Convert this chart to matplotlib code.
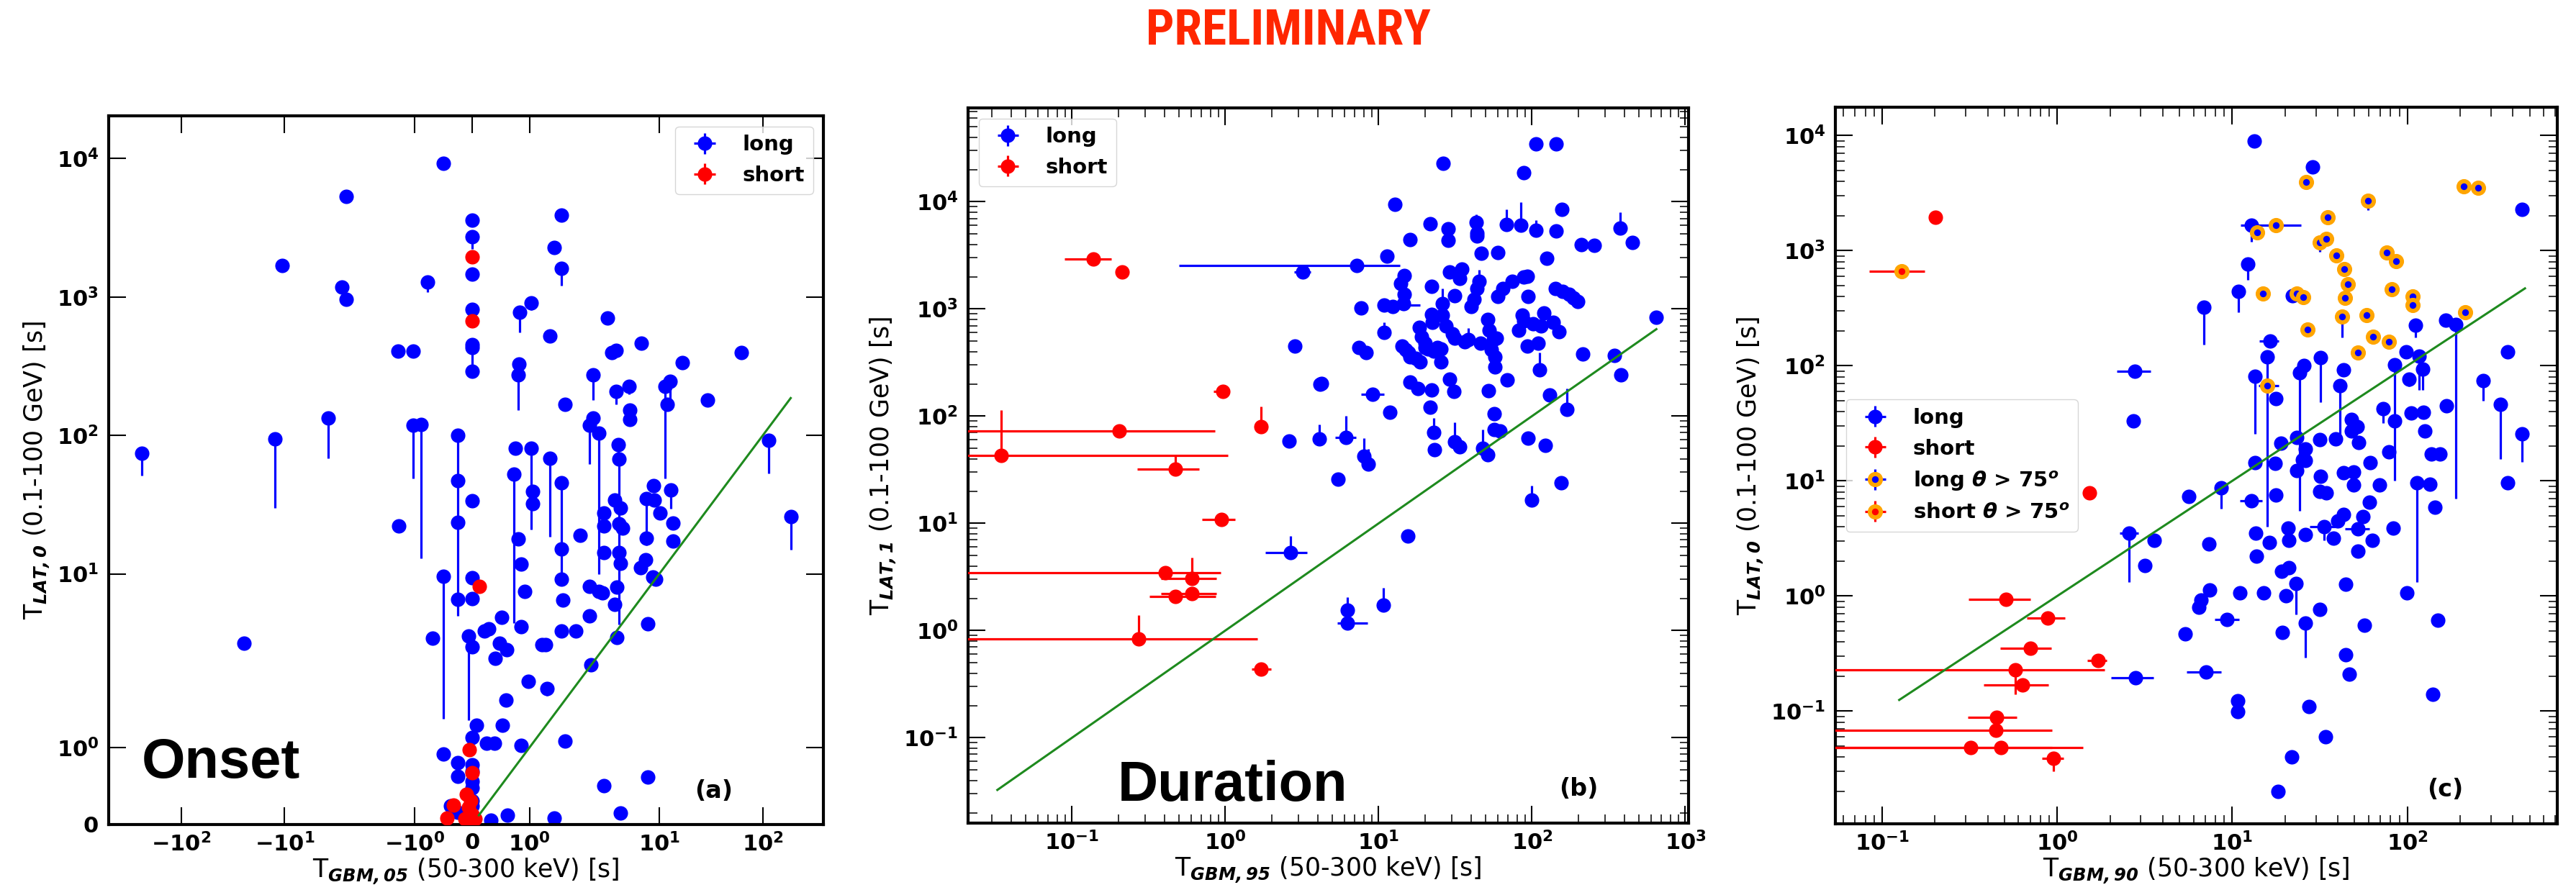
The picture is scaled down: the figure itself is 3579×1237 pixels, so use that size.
import numpy as np
import matplotlib
matplotlib.use('Agg')
import matplotlib.pyplot as plt
from matplotlib.ticker import NullLocator

########
# Data #
########

# (a) onset: T_LAT,0 vs T_GBM,05 (symlog)
a_long_x = [-240, -24.6, -12.3, -10.6, -3.8, -2.78, -2.55, -2.55, -1.28, -1.02,
            -1.27, -1.02, -0.88, -0.77, -0.5, -0.69, -0.5, -0.5, -0.25, -0.25,
            -0.25, -0.25, -0.25, -0.25, -0.06, -0.37, -0.25,
            0, 0, 0, 0, 0, 0, 0, 0, 0, 0, 0, 0, 0, 0, 0, 0, 0, 0,
            0.08, 0.22, 0.29, 0.40, 0.48, 0.52, 0.60, 0.26, 0.39, 0.53,
            0.59, 0.85, 0.98, 1.31, 1.62, 0.82, 0.80, 0.76, 0.73, 0.80,
            0.85, 0.92, 0.85, 0.83, 1.03, 1.03, 1.05, 1.05, 1.35, 1.36,
            1.43, 1.55, 1.55, 1.55, 1.55, 1.55, 1.58, 1.62, 1.55, 1.22,
            1.28, 1.80, 1.88, 2.1, 2.1, 2.2, 2.1, 2.3, 2.6, 2.3,
            2.6, 2.8, 2.9, 2.9, 2.9, 3.14, 3.46, 3.82, 3.8, 3.68,
            4.0, 4.1, 4.2, 4.1, 4.4, 4.1, 4.2, 3.9, 3.7, 3.91,
            5.1, 5.2, 5.2, 6.7, 7.55, 8.85, 9.0, 12.9, 10.1, 13.5,
            13.5, 7.55, 7.4, 6.6, 8.6, 9.2, 7.73, 11.3, 12.0, 12.7,
            16.7, 29.2, 62, 114, 186, 7.7, 2.9, 4.2, 1.43, 0.62, 0.33]
a_long_y = [74.5, 3.14, 94, 1678, 134, 1180, 5325, 957, 404, 404,
            22.1, 118, 120, 1283, 9180, 3.42, 9.57, 0.92, 100, 47,
            23.6, 6.56, 0.8, 0.63, 3.56, 0.24, 0.16,
            3565, 2728, 1455, 810, 450, 430, 292, 33.6, 9.33, 6.6, 2.96, 1.13,
            0.78, 0.69, 0.56, 0.48, 0.31, 0.24,
            1.29, 3.87, 4.0, 2.44, 3.14, 4.85, 2.84, 1.06, 1.06, 1.29,
            1.62, 1.03, 1.86, 1.77, 1.08, 328, 273, 81, 52.4, 17.8,
            11.7, 7.45, 4.14, 776, 903, 81, 39.4, 32, 520, 68.5,
            2285, 3910, 1608, 45.4, 15.2, 9.1, 6.5, 168, 3.87, 3.09,
            3.09, 3.87, 18.9, 8.1, 5.0, 2.2, 118, 134, 104, 273,
            7.5, 7.3, 27.6, 22.1, 14.3, 702, 397, 409, 207, 34.1,
            86, 67.3, 29.8, 23.1, 21.3, 14.3, 11.9, 8.0, 6.0, 3.48,
            227, 152, 131, 466, 35.0, 43.4, 34.1, 40.4, 27.6, 23.2,
            17.2, 18.2, 12.6, 11.1, 9.5, 9.2, 4.37, 227, 168, 247,
            336, 179, 397, 92, 25.9, 0.62, 0.5, 0.15, 0.08, 0.12, 0.06]
a_long_ylo = [23.5, 0, 64, 0, 66, 0, 0, 0, 0, 0,
              0, 69, 107, 197, 0, 0, 8.2, 0, 95, 0,
              0, 0, 0, 0, 2.2, 0, 0,
              0, 515, 0, 0, 0, 140, 0, 0, 0, 0, 0, 0, 0, 0, 0, 0, 0, 0,
              0, 0, 0, 0, 0, 0.4, 0, 0, 0, 0,
              0, 0, 0, 0.1, 0.05, 0, 121, 0, 48, 0,
              0, 0, 0, 220, 100, 60, 0, 0, 0, 50,
              0, 0, 400, 36, 0, 0, 0, 0, 0, 0,
              0, 0, 0, 0, 0, 0, 56, 0, 94, 94,
              0, 0, 0, 0, 0, 0, 0, 0, 40, 0,
              11, 63, 0, 0, 0, 0, 0, 0, 0, 0.3,
              30, 0, 0, 0, 19, 0, 0, 11, 0, 0,
              0, 0, 0, 0, 0, 0, 0, 178, 0, 70,
              0, 0, 0, 39, 11, 0, 0, 0, 0, 0, 0]
a_short_x = [0, 0, 0.126, -0.05, 0, -0.1, -0.32, -0.02, -0.06, 0, -0.43, 0.06, -0.12, -0.05]
a_short_y = [1950, 668, 8.1, 0.97, 0.67, 0.39, 0.25, 0.31, 0.22, 0.13, 0.08, 0.07, 0.07, 0.02]
a_line = [0.12, 186]

# (b) duration: T_LAT,1 vs T_GBM,95
b_long_x = [106, 143, 26.2, 88, 12.8, 156, 21.7, 28.3, 28.3, 44,
            44, 143, 450, 210, 254, 16, 11.3, 46.7, 60, 125,
            648, 29.1, 34.7, 33.7, 14.7, 13.9, 14.7, 22.2, 31.3, 43.7,
            42, 40.3, 59.7, 64.3, 74.5, 88, 93, 94.6, 142, 158.5,
            174, 187, 198, 7.68, 12.4, 14.5, 22.1, 22.5, 18.4, 19,
            20, 26, 27.5, 30.2, 31.3, 36.3, 51.2, 52.5, 56.1, 58.6,
            81.7, 86.3, 88, 102, 114, 137, 150, 93, 110, 46.1,
            54.4, 57.5, 57.5, 214, 344, 380, 14.2, 15.6, 15, 16.1,
            17.4, 18.7, 20, 20.9, 22.9, 24.2, 25.6, 7.4, 8.3, 25.4,
            4.16, 16.1, 18, 22.1, 28.9, 31.1, 52.1, 69.2, 21.7, 56.5,
            131, 5.45, 23.2, 33.7, 56.5, 62, 94, 122, 154.5, 2.84,
            4.26, 2.61, 15.5]
b_long_y = [34900, 34500, 22900, 18700, 9450, 8530, 6220, 5560, 4370, 5100,
            4820, 5310, 4180, 3990, 3930, 4420, 3100, 3290, 3380, 2970,
            836, 2230, 2360, 1930, 2050, 1730, 1370, 1630, 1330, 1540,
            1225, 1060, 1300, 1540, 1820, 1990, 2020, 1300, 1540, 1450,
            1370, 1260, 1170, 1030, 1050, 1120, 895, 754, 673, 551,
            478, 871, 692, 583, 536, 491, 798, 635, 520, 536,
            635, 879, 776, 733, 692, 754, 618, 451, 478, 478,
            414, 359, 286, 380, 369, 241, 451, 391, 414, 359,
            349, 321, 439, 426, 403, 439, 426, 439, 391, 323,
            200, 209, 181, 176, 221, 169, 174, 219, 121, 106,
            157, 26, 48.8, 51.6, 74.8, 72.6, 62, 53.7, 23.9, 449,
            202, 58.2, 7.63]
# long bursts of (b) that carry error bars
b_long_ex = [43.3, 68, 84.7, 106, 377, 7.2, 45.3, 10.8, 26, 38.4,
             120, 112, 10.8, 9.12, 11.8, 169, 4.09, 6.12, 8.0, 8.6,
             22.9, 31.3, 47.9, 51.5, 100, 3.2, 2.66, 6.24, 6.24, 10.7]
b_long_ey = [6410, 6120, 6050, 5400, 5650, 2540, 1820, 1090, 1125, 520,
             920, 270, 600, 160, 108, 116, 61.2, 63, 42.3, 35.6,
             70.6, 57.8, 50.1, 43.4, 16.5, 2225, 5.35, 1.56, 1.18, 1.72]
b_long_exlo = [0, 0, 0, 0, 0, 6.7, 0, 1.0, 0, 0,
               0, 0, 0, 1.4, 1.0, 0, 0, 0.93, 0, 0,
               0, 3, 0, 4, 0, 0.4, 0.83, 0, 0.86, 0]
b_long_exhi = [0, 0, 0, 0, 0, 6.5, 0, 7.9, 0, 0,
               0, 0, 0, 1.7, 1.2, 0, 0, 0.98, 0, 0,
               0, 4, 0, 5, 0, 0.4, 0.75, 0, 2.2, 0]
b_long_eyhi = [1190, 2400, 3800, 1380, 2300, 0, 500, 0, 415, 140,
               80, 121, 150, 0, 0, 65, 22.5, 37, 20, 14,
               25, 30, 25, 0, 6, 300, 2.3, 0.5, 0, 0.8]
b_short_x = [0.138, 0.212, 0.96, 0.204, 0.0344, 0.474, 1.71, 0.944, 0.405, 0.608, 0.474, 0.608, 0.272, 1.71]
b_short_y = [2915, 2225, 170, 72.3, 43, 32.1, 79.7, 10.9, 3.47, 3.05, 2.09, 2.2, 0.832, 0.435]
b_short_xlo = [0.049, 0, 0.12, 0.2, 0.03, 0.208, 0, 0.237, 0.4, 0.228, 0.153, 0.228, 0.27, 0.22]
b_short_xhi = [0.042, 0, 0.1, 0.65, 1.0, 0.204, 0, 0.216, 0.525, 0.262, 0.395, 0.262, 1.35, 0.28]
b_short_yhi = [0, 0, 0, 0, 71, 11, 43, 0, 0, 1.75, 0, 0, 0.57, 0]
b_line = [0.0326, 648]

# (c) onset vs duration: T_LAT,0 vs T_GBM,90
c_long_x = [13.4, 28.7, 450, 22, 98.9, 375, 25.6, 43.2, 17.8, 168,
            124, 105, 84.9, 48, 51.8, 126, 23.3, 18.9, 31.6, 38.9,
            48, 52.7, 78.7, 137, 153, 61.4, 13.5, 17.5, 26.1, 26.1,
            5.64, 17.7, 23.4, 25.2, 31.8, 31.5, 34.3, 43.2, 49.3, 49.3,
            69.5, 60.8, 135, 144, 374, 2.73, 3.59, 3.17, 7.36, 13.6,
            13.7, 16.3, 20.8, 21, 26.2, 37.7, 39.9, 43.2, 56, 63.2,
            52.2, 83.2, 19.2, 21, 44.5, 99.3, 7.41, 11.1, 15.1, 20.2,
            5.36, 19.3, 31.5, 56.8, 149, 44.5, 46.6, 10.7, 10.7, 27.5,
            140, 34, 21.8, 18.2, 165]
c_long_y = [9000, 5310, 2270, 403, 133, 133, 101, 92.7, 51.5, 44.7,
            39.5, 38.6, 33.4, 34.3, 29.6, 27, 23.9, 21.2, 22.8, 23.3,
            27, 21.7, 17.9, 17.1, 17.1, 14.5, 14.5, 14.1, 18.8, 15.1,
            7.36, 7.53, 12.3, 15.3, 11, 8.11, 7.9, 11.8, 12, 9.17,
            9.25, 6.52, 9.4, 5.91, 9.62, 33.4, 3.05, 1.84, 2.84, 3.54,
            2.23, 2.92, 3.91, 3.06, 3.42, 3.17, 4.52, 5.1, 4.87, 3.06,
            2.45, 3.91, 1.63, 1.77, 1.27, 1.07, 1.13, 1.06, 1.06, 1.01,
            0.469, 0.48, 0.764, 0.561, 0.612, 0.31, 0.21, 0.123, 0.0986, 0.11,
            0.14, 0.06, 0.04, 0.02, 249]
c_long_ex = [12.9, 12.3, 10.8, 6.89, 111, 189, 16.5, 15.8, 117, 13.5,
             24.2, 31.9, 41.2, 84.3, 102, 122, 271, 72.9, 340, 453,
             8.65, 12.9, 113, 2.77, 2.58, 2.79, 33.6, 52.2, 23.2, 6.62,
             6.41, 9.33, 26.2, 7.08]
c_long_ey = [1675, 766, 443, 323, 226, 228, 165, 119, 122, 81.5,
             87.5, 117, 67.1, 102, 76.4, 94, 74, 42.6, 46.4, 25.7,
             8.65, 6.67, 9.62, 89.6, 3.49, 0.196, 4.0, 3.81, 1.29, 0.927,
             0.8, 0.622, 0.583, 0.22]
c_long_exlo = [1.7, 0, 0, 0, 0, 0, 2.2, 0, 0, 0,
               0, 0, 0, 0, 0, 0, 0, 0, 0, 0,
               0, 1.8, 0, 0.58, 0.31, 0.77, 5.8, 8.2, 0, 0.3,
               0.3, 1.37, 0, 1.58]
c_long_exhi = [11.8, 0, 0, 0, 0, 0, 2.0, 0, 0, 0,
               0, 0, 0, 0, 0, 0, 0, 0, 0, 0,
               0, 1.9, 0, 0.63, 0.32, 0.76, 6.3, 8.6, 0, 0.3,
               0.3, 1.57, 0, 1.57]
c_long_eylo = [475, 211, 153, 171, 51, 221, 0, 115, 60, 56,
               82, 69, 46, 92, 10, 32, 24, 10.6, 31, 11,
               2.9, 0, 8.3, 0, 2.17, 0, 0.94, 0, 0.6, 0,
               0, 0, 0.29, 0]
c_long75_x = [26.4, 59.8, 210, 254, 35, 17.8, 13.9, 31.6, 34.4, 39.4,
              76.5, 86.5, 43.6, 45.8, 81.7, 14.9, 23.3, 25.4, 44, 107,
              107, 42.5, 58.7, 214, 26.8, 63.8, 78.7, 52.1, 15.9]
c_long75_y = [3920, 2710, 3610, 3520, 1960, 1675, 1450, 1170, 1270, 910,
              964, 807, 689, 509, 465, 423, 423, 397, 387, 402,
              336, 266, 274, 293, 206, 178, 162, 130, 67.1]
c_long75_ylo = [0, 475, 0, 0, 0, 0, 0, 200, 0, 0,
                0, 0, 0, 0, 0, 0, 0, 0, 0, 0,
                0, 91, 0, 0, 20, 0, 0, 0, 0]
c_long75_xlo = [0] * 28 + [1.8]
c_long75_xhi = [0] * 28 + [2.6]
c_short_x = [0.201, 1.53, 0.509, 0.885, 0.7, 1.71, 0.574, 0.635, 0.45, 0.447, 0.321, 0.476, 0.948]
c_short_y = [1940, 7.88, 0.936, 0.644, 0.354, 0.275, 0.227, 0.168, 0.0881, 0.0684, 0.0485, 0.0485, 0.0388]
c_short_xlo = [0, 0, 0.197, 0.212, 0.227, 0.23, 0.55, 0.255, 0.143, 0.44, 0.31, 0.46, 0.128]
c_short_xhi = [0, 0, 0.196, 0.225, 0.225, 0.21, 1.29, 0.255, 0.139, 0.486, 0.612, 0.924, 0.142]
c_short_ylo = [0, 0, 0, 0, 0, 0, 0.088, 0, 0, 0, 0, 0, 0.009]
c_short75_x = [0.129]
c_short75_y = [664]
c_short75_xlo = [0.045]
c_short75_xhi = [0.045]
c_line = [0.125, 470]

#########
# Style #
#########

plt.rcParams['font.family'] = ['DejaVu Sans']
plt.rcParams['font.weight'] = 'bold'
plt.rcParams['mathtext.fontset'] = 'dejavusans'
plt.rcParams['axes.linewidth'] = 3

BLUE = '#0000ff'
RED = '#ff0000'
GREEN = '#1e8a1e'
MS = 14.5   # marker size of the dots


def eb(ax, x, y, color, xlo=None, xhi=None, ylo=None, yhi=None,
       edge=None, ms=MS, mew=0, z=2):
    '''errorbar with (possibly asymmetric) errors, zero where not given'''
    x = np.asarray(x, float)
    y = np.asarray(y, float)
    zero = np.zeros_like(x)
    xerr = [zero if xlo is None else np.asarray(xlo, float),
            zero if xhi is None else np.asarray(xhi, float)]
    yerr = [zero if ylo is None else np.asarray(ylo, float),
            zero if yhi is None else np.asarray(yhi, float)]
    return ax.errorbar(x, y, xerr=xerr, yerr=yerr, fmt='o', color=color,
                       ecolor=color, ms=ms, mfc=color,
                       mec=edge if edge else color, mew=mew,
                       elinewidth=2.3, capsize=0, zorder=z)


def style(ax, xlab, ylab, tag):
    ax.tick_params(which='both', direction='in', top=True, right=True,
                   labelsize=22)
    ax.tick_params(which='major', length=17, width=1.5)
    ax.tick_params(which='minor', length=9, width=1.1)
    ax.tick_params(axis='x', pad=8)
    ax.tick_params(axis='y', pad=10)
    ax.set_xlabel(xlab, fontsize=25, fontweight='normal', labelpad=1)
    ax.set_ylabel(ylab, fontsize=25, fontweight='normal', labelpad=5)
    ax.text(0.82, 0.038, tag, transform=ax.transAxes, fontsize=24,
            fontweight='bold', ha='left', va='baseline')


fig = plt.figure(figsize=(35.8, 12.37), dpi=100)

# (a)
ax1 = fig.add_axes([0.0422, 0.0736, 0.2774, 0.7962])
ax1.set_xscale('symlog', linthresh=2, linscale=1)
ax1.set_yscale('symlog', linthresh=2, linscale=1)
h1 = eb(ax1, a_long_x, a_long_y, BLUE, ylo=a_long_ylo)
h2 = eb(ax1, a_short_x, a_short_y, RED, z=3)
ax1.plot(a_line, a_line, color=GREEN, lw=2.2, zorder=4)
ax1.set_xlim(-500, 386)
ax1.set_ylim(0, 2.03e4)
ax1.xaxis.set_minor_locator(NullLocator())
ax1.yaxis.set_minor_locator(NullLocator())
style(ax1, r'T$_{\mathbfit{GBM,05}}$ (50-300 keV) [s]',
      r'T$_{\mathbfit{LAT,0}}$ (0.1-100 GeV) [s]', '(a)')
ax1.legend([h1, h2], ['long', 'short'], loc='upper right', numpoints=1,
           fontsize=21)

# (b)
ax2 = fig.add_axes([0.3757, 0.0752, 0.2796, 0.8035])
ax2.set_xscale('log')
ax2.set_yscale('log')
eb(ax2, b_long_x, b_long_y, BLUE)
h1 = eb(ax2, b_long_ex, b_long_ey, BLUE, xlo=b_long_exlo, xhi=b_long_exhi,
        yhi=b_long_eyhi)
h2 = eb(ax2, b_short_x, b_short_y, RED, xlo=b_short_xlo, xhi=b_short_xhi,
        yhi=b_short_yhi, z=3)
ax2.plot(b_line, b_line, color=GREEN, lw=2.2, zorder=4)
ax2.set_xlim(0.021, 1050)
ax2.set_ylim(0.016, 7.5e4)
style(ax2, r'T$_{\mathbfit{GBM,95}}$ (50-300 keV) [s]',
      r'T$_{\mathbfit{LAT,1}}$ (0.1-100 GeV) [s]', '(b)')
ax2.legend([h1, h2], ['long', 'short'], loc='upper left', numpoints=1,
           fontsize=21)

# (c)
ax3 = fig.add_axes([0.7123, 0.0744, 0.2802, 0.8051])
ax3.set_xscale('log')
ax3.set_yscale('log')
eb(ax3, c_long_x, c_long_y, BLUE)
h1 = eb(ax3, c_long_ex, c_long_ey, BLUE, xlo=c_long_exlo, xhi=c_long_exhi,
        ylo=c_long_eylo)
h2 = eb(ax3, c_short_x, c_short_y, RED, xlo=c_short_xlo, xhi=c_short_xhi,
        ylo=c_short_ylo, z=3)
h3 = eb(ax3, c_long75_x, c_long75_y, BLUE, xlo=c_long75_xlo,
        xhi=c_long75_xhi, ylo=c_long75_ylo, edge='orange', ms=11, mew=4.2,
        z=3)
h4 = eb(ax3, c_short75_x, c_short75_y, RED, xlo=c_short75_xlo,
        xhi=c_short75_xhi, edge='orange', ms=11, mew=4.2, z=3)
ax3.plot(c_line, c_line, color=GREEN, lw=2.2, zorder=4)
ax3.set_xlim(0.054, 720)
ax3.set_ylim(0.0105, 1.76e4)
style(ax3, r'T$_{\mathbfit{GBM,90}}$ (50-300 keV) [s]',
      r'T$_{\mathbfit{LAT,0}}$ (0.1-100 GeV) [s]', '(c)')
ax3.legend([h1, h2, h3, h4],
           ['long', 'short', r'long $\mathbfit{\theta}$ > 75$^{\mathbfit{o}}$',
            r'short $\mathbfit{\theta}$ > 75$^{\mathbfit{o}}$'],
           loc='center left', numpoints=1, fontsize=21)

# slide annotations
fig.text(0.5, 0.965, 'PRELIMINARY', color='#ff2600', fontsize=50,
         fontweight='bold', fontstretch='condensed',
         family=['Liberation Sans Narrow', 'Roboto Condensed', 'DejaVu Sans'],
         ha='center', va='center')
fig.text(0.055, 0.126, 'Onset', fontsize=56, fontweight='bold',
         family=['Liberation Sans'], ha='left', va='baseline')
fig.text(0.4338, 0.1002, 'Duration', fontsize=56, fontweight='bold',
         family=['Liberation Sans'], ha='left', va='baseline')

fig.savefig('out.png', dpi=100)
